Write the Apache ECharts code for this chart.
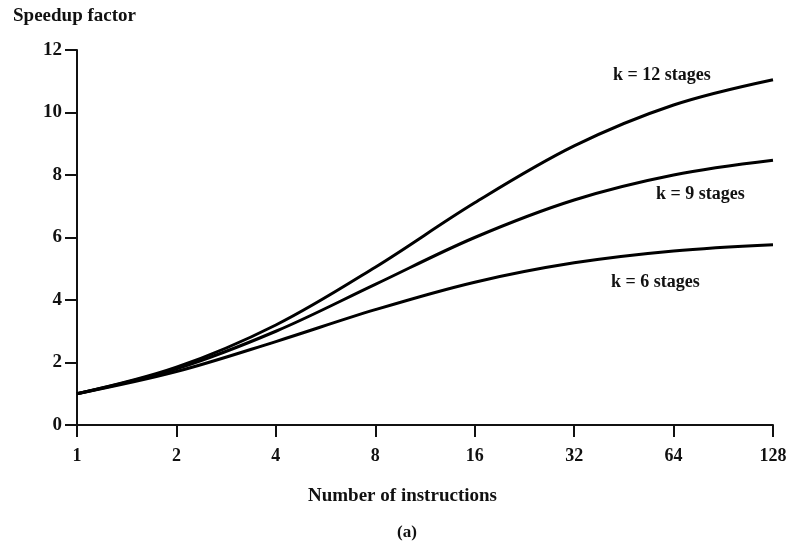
<!DOCTYPE html>
<html>
<head>
<meta charset="utf-8">
<script src="https://cdn.jsdelivr.net/npm/echarts@6/dist/echarts.min.js"></script>
<style>
  html, body { margin: 0; padding: 0; background: #fff; }
  #chart { width: 793px; height: 545px; }
</style>
</head>
<body>
<div id="chart"></div>
<script>
// number of instructions (log2 axis)
const instructions = [1, 2, 4, 8, 16, 32, 64, 128];
// speedup factor
const speedupK12 = [1, 1.85, 3.2, 5.05, 7.11, 8.93, 10.24, 11.05];
const speedupK9 = [1, 1.8, 3.0, 4.5, 6.0, 7.2, 8.0, 8.47];
const speedupK6 = [1, 1.71, 2.67, 3.69, 4.57, 5.19, 5.57, 5.77];
const curveLabels = ['k = 12 stages', 'k = 9 stages', 'k = 6 stages'];

const font = '"Liberation Serif", "DejaVu Serif", serif';
const chart = echarts.init(document.getElementById('chart'));

function curve(name, values) {
    return {
        name: name,
        type: 'line',
        data: instructions.map((n, i) => [n, values[i]]),
        smooth: 0.35,
        showSymbol: false,
        lineStyle: { color: '#000', width: 3 },
        silent: true,
    };
}

const textStyle = { fill: '#111', fontFamily: font, fontWeight: 'bold', fontSize: 18 };

const options = {
    animation: false,
    backgroundColor: '#fff',
    grid: { left: 77, right: 20, top: 50, bottom: 120 },
    xAxis: {
        type: 'log',
        logBase: 2,
        min: 1,
        max: 128,
        axisLine: { lineStyle: { color: '#111', width: 2 } },
        axisTick: { length: 12, lineStyle: { color: '#111', width: 2 } },
        splitLine: { show: false },
        minorTick: { show: false },
        axisLabel: {
            color: '#111', fontFamily: font, fontWeight: 'bold', fontSize: 18, margin: 22,
        },
    },
    yAxis: {
        type: 'value',
        min: 0,
        max: 12,
        interval: 2,
        axisLine: { show: true, lineStyle: { color: '#111', width: 2 } },
        axisTick: { show: true, length: 12, lineStyle: { color: '#111', width: 2 } },
        splitLine: { show: false },
        axisLabel: {
            color: '#111', fontFamily: font, fontWeight: 'bold', fontSize: 19, margin: 15,
        },
    },
    graphic: [
        { type: 'text', left: 13, top: 7, style: Object.assign({}, textStyle, { text: 'Speedup factor', fontSize: 19 }) },
        { type: 'text', left: 613, top: 66, style: Object.assign({}, textStyle, { text: curveLabels[0] }) },
        { type: 'text', left: 656, top: 185, style: Object.assign({}, textStyle, { text: curveLabels[1] }) },
        { type: 'text', left: 611, top: 273, style: Object.assign({}, textStyle, { text: curveLabels[2] }) },
        { type: 'text', left: 308, top: 487, style: Object.assign({}, textStyle, { text: 'Number of instructions', fontSize: 19 }) },
        { type: 'text', left: 397, top: 524, style: Object.assign({}, textStyle, { text: '(a)', fontSize: 17 }) },
    ],
    series: [
        curve(curveLabels[0], speedupK12),
        curve(curveLabels[1], speedupK9),
        curve(curveLabels[2], speedupK6),
    ],
};

chart.setOption(options);
</script>
</body>
</html>
